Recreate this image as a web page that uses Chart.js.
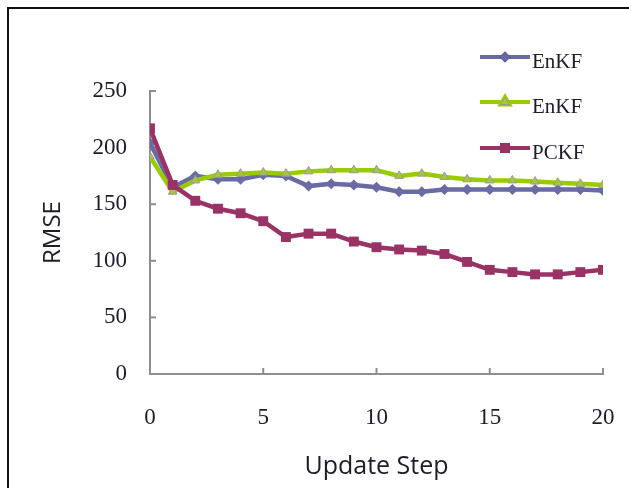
<!DOCTYPE html>
<html>
<head>
<meta charset="utf-8">
<script src="https://cdn.jsdelivr.net/npm/chart.js@4.4.1/dist/chart.umd.min.js"></script>
<style>
  html, body { margin: 0; padding: 0; background: #fff; overflow: hidden; }
  #wrap { position: relative; width: 629px; height: 488px; }
  #frame { position: absolute; left: 7px; top: 7px; width: 700px; height: 600px;
           border: 2px solid #111; box-shadow: 1px 1px 0 #999; }
  canvas { position: absolute; left: 0; top: 0; }
</style>
</head>
<body>
<div id="wrap">
  <div id="frame"></div>
  <canvas id="chart" width="629" height="488"></canvas>
</div>
<script>
// update steps on the x axis
const steps = [0, 1, 2, 3, 4, 5, 6, 7, 8, 9, 10, 11, 12, 13, 14, 15, 16, 17, 18, 19, 20];

// RMSE
const enkfA = [204, 165, 175, 172, 172, 176, 175, 166, 168, 167, 165, 161, 161, 163, 163, 163, 163, 163, 163, 163, 162];
const enkfB = [192, 161, 171, 176, 177, 178, 177, 179, 180, 180, 180, 175, 177, 174, 172, 171, 171, 170, 169, 168, 167];
const pckf = [217, 167, 153, 146, 142, 135, 121, 124, 124, 117, 112, 110, 109, 106, 99, 92, 90, 88, 88, 90, 92];

const seriesNames = ['EnKF', 'EnKF', 'PCKF'];

const axisColor = '#8e8e8e';
const textColor = '#1c1c2a';
const serif = "'Liberation Serif', 'Times New Roman', serif";
const sans = "'Open Sans', 'Noto Sans', sans-serif";

function toPoints(values) {
    return values.map((v, i) => ({ x: steps[i], y: v }));
}

// tick marks point inward, like the Excel original
const innerTicks = {
    id: 'innerTicks',
    beforeDatasetsDraw(chart) {
        const { ctx, chartArea, scales: { x, y } } = chart;
        ctx.save();
        ctx.strokeStyle = axisColor;
        ctx.lineWidth = 2;
        y.ticks.forEach(t => {
            const py = y.getPixelForValue(t.value);
            ctx.beginPath();
            ctx.moveTo(chartArea.left, py);
            ctx.lineTo(chartArea.left + 6, py);
            ctx.stroke();
        });
        x.ticks.forEach(t => {
            const px = x.getPixelForValue(t.value);
            ctx.beginPath();
            ctx.moveTo(px, chartArea.bottom);
            ctx.lineTo(px, chartArea.bottom - 6);
            ctx.stroke();
        });
        ctx.restore();
    }
};

// legend sits inside the top right corner of the plot
const cornerLegend = {
    id: 'cornerLegend',
    afterDraw(chart) {
        const ctx = chart.ctx;
        const x0 = 480, x1 = 530, rowY = [57, 102, 148];
        ctx.save();
        chart.data.datasets.forEach((ds, i) => {
            const y = rowY[i];
            ctx.strokeStyle = ds.borderColor;
            ctx.lineWidth = 4;
            ctx.beginPath();
            ctx.moveTo(x0, y);
            ctx.lineTo(x1, y);
            ctx.stroke();
            Chart.helpers.drawPoint(ctx, {
                pointStyle: ds.pointStyle,
                radius: ds.pointRadius,
                borderWidth: ds.pointBorderWidth,
                rotation: 0
            }, (x0 + x1) / 2, y);
            ctx.fillStyle = ds.pointBackgroundColor;
            ctx.strokeStyle = ds.pointBorderColor;
            ctx.lineWidth = ds.pointBorderWidth;
            ctx.fill();
            if (ds.pointBorderWidth > 0) ctx.stroke();
            ctx.fillStyle = textColor;
            ctx.font = '21px ' + serif;
            ctx.textBaseline = 'alphabetic';
            ctx.textAlign = 'left';
            ctx.fillText(seriesNames[i], x1 + 2, y + 11);
        });
        ctx.restore();
    }
};

const ctx = document.getElementById('chart').getContext('2d');
const rmseChart = new Chart(ctx, {
    type: 'line',
    data: {
        datasets: [{
            label: seriesNames[0],
            data: toPoints(enkfA),
            borderColor: '#6a6aa4',
            backgroundColor: '#6a6aa4',
            pointBackgroundColor: '#6a6aa4',
            pointBorderColor: '#6a6aa4',
            pointBorderWidth: 0,
            pointStyle: 'rectRot',
            pointRadius: 5.5,
            borderWidth: 4.5,
            order: 3
        }, {
            label: seriesNames[1],
            data: toPoints(enkfB),
            borderColor: '#99cc00',
            backgroundColor: '#99cc00',
            pointBackgroundColor: '#a9c63a',
            pointBorderColor: '#9a9a9a',
            pointBorderWidth: 1,
            pointStyle: 'triangle',
            pointRadius: 5,
            borderWidth: 4.5,
            order: 2
        }, {
            label: seriesNames[2],
            data: toPoints(pckf),
            borderColor: '#993366',
            backgroundColor: '#993366',
            pointBackgroundColor: '#993366',
            pointBorderColor: '#993366',
            pointBorderWidth: 0,
            pointStyle: 'rect',
            pointRadius: 7,
            borderWidth: 4.5,
            order: 1
        }]
    },
    options: {
        responsive: false,
        animation: false,
        layout: { padding: { top: 91, right: 26, left: 0, bottom: 0 } },
        plugins: {
            legend: { display: false },
            tooltip: { enabled: false }
        },
        elements: { line: { tension: 0 } },
        scales: {
            x: {
                type: 'linear',
                min: 0,
                max: 20,
                afterFit: scale => {
                    scale.height = 114;
                    // tick padding would otherwise push the plot in from the right
                    scale.paddingLeft = 0;
                    scale.paddingRight = 0;
                },
                grid: { drawOnChartArea: false, drawTicks: false },
                border: { color: axisColor, width: 2 },
                ticks: {
                    stepSize: 5,
                    padding: 30,
                    color: textColor,
                    font: { family: serif, size: 23 }
                },
                title: {
                    display: true,
                    text: 'Update Step',
                    color: textColor,
                    font: { family: sans, size: 25 },
                    padding: { top: 0, bottom: 6 }
                }
            },
            y: {
                min: 0,
                max: 250,
                afterFit: scale => { scale.width = 150; },
                grid: { drawOnChartArea: false, drawTicks: false },
                border: { color: axisColor, width: 2 },
                ticks: {
                    stepSize: 50,
                    padding: 23,
                    color: textColor,
                    font: { family: serif, size: 23 }
                },
                title: {
                    display: true,
                    text: 'RMSE',
                    color: textColor,
                    font: { family: sans, size: 24 },
                    padding: { top: 39, bottom: 0 }
                }
            }
        }
    },
    plugins: [innerTicks, cornerLegend]
});
</script>
</body>
</html>
